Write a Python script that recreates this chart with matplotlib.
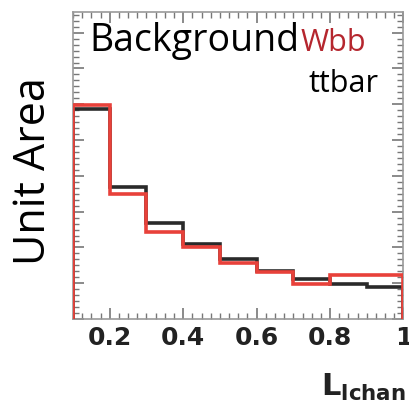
import numpy as np
import matplotlib.pyplot as plt
from matplotlib.ticker import MultipleLocator, AutoMinorLocator

# L_lchan histogram, normalised shapes
bin_edges = [0.1, 0.2, 0.3, 0.4, 0.5, 0.6, 0.7, 0.8, 0.9, 1.0]
ttbar = [0.205, 0.129, 0.094, 0.073, 0.059, 0.047, 0.039, 0.034, 0.031]
wbb = [0.209, 0.122, 0.085, 0.070, 0.055, 0.046, 0.034, 0.043, 0.043]
xticks = [0.2, 0.4, 0.6, 0.8, 1.0]
xtick_labels = ["0.2", "0.4", "0.6", "0.8", "1"]

fig = plt.figure(figsize=(4.09, 4.08), dpi=100)
ax = fig.add_axes([0.1785, 0.218, 0.808, 0.752])

centers = np.array(bin_edges[:-1]) + 0.05
ax.hist(centers, bins=bin_edges, weights=ttbar, histtype="step",
        color="#2a2a2a", lw=2.6, zorder=3)
ax.hist(centers, bins=bin_edges, weights=wbb, histtype="step",
        color="#e8413a", lw=2.6, zorder=4)

ax.set_xlim(0.1, 1.0)
ax.set_ylim(0, 0.30)

ax.set_xticks(xticks)
ax.set_xticklabels(xtick_labels, fontsize=18, fontweight="bold",
                   family="DejaVu Sans", color="#222222")
ax.xaxis.set_minor_locator(MultipleLocator(0.025))
ax.yaxis.set_major_locator(MultipleLocator(0.035))
ax.yaxis.set_minor_locator(AutoMinorLocator(6))
ax.tick_params(which="both", direction="in", top=True, right=True,
               labelleft=False, color="#777777")
ax.tick_params(which="major", length=8, width=1.2, pad=5)
ax.tick_params(which="minor", length=4, width=1.0)
for s in ax.spines.values():
    s.set_color("#999999")
    s.set_linewidth(1.2)

ax.text(0.05, 0.905, "Background", transform=ax.transAxes, fontsize=27,
        family="Open Sans", color="black", va="center", ha="left")
ax.text(0.69, 0.90, "Wbb", transform=ax.transAxes, fontsize=22,
        family="Open Sans", color="#b5262e", va="center", ha="left")
ax.text(0.925, 0.765, "ttbar", transform=ax.transAxes, fontsize=22,
        family="Open Sans", color="black", va="center", ha="right")

fig.text(0.083, 0.58, "Unit Area", rotation=90, fontsize=31,
         family="Open Sans", va="center", ha="center")
fig.text(0.785, 0.05, r"$\mathbf{L}_{\mathbf{lchan}}$", fontsize=22,
         color="#222222", va="center", ha="left")

fig.savefig("out.png", dpi=100)
